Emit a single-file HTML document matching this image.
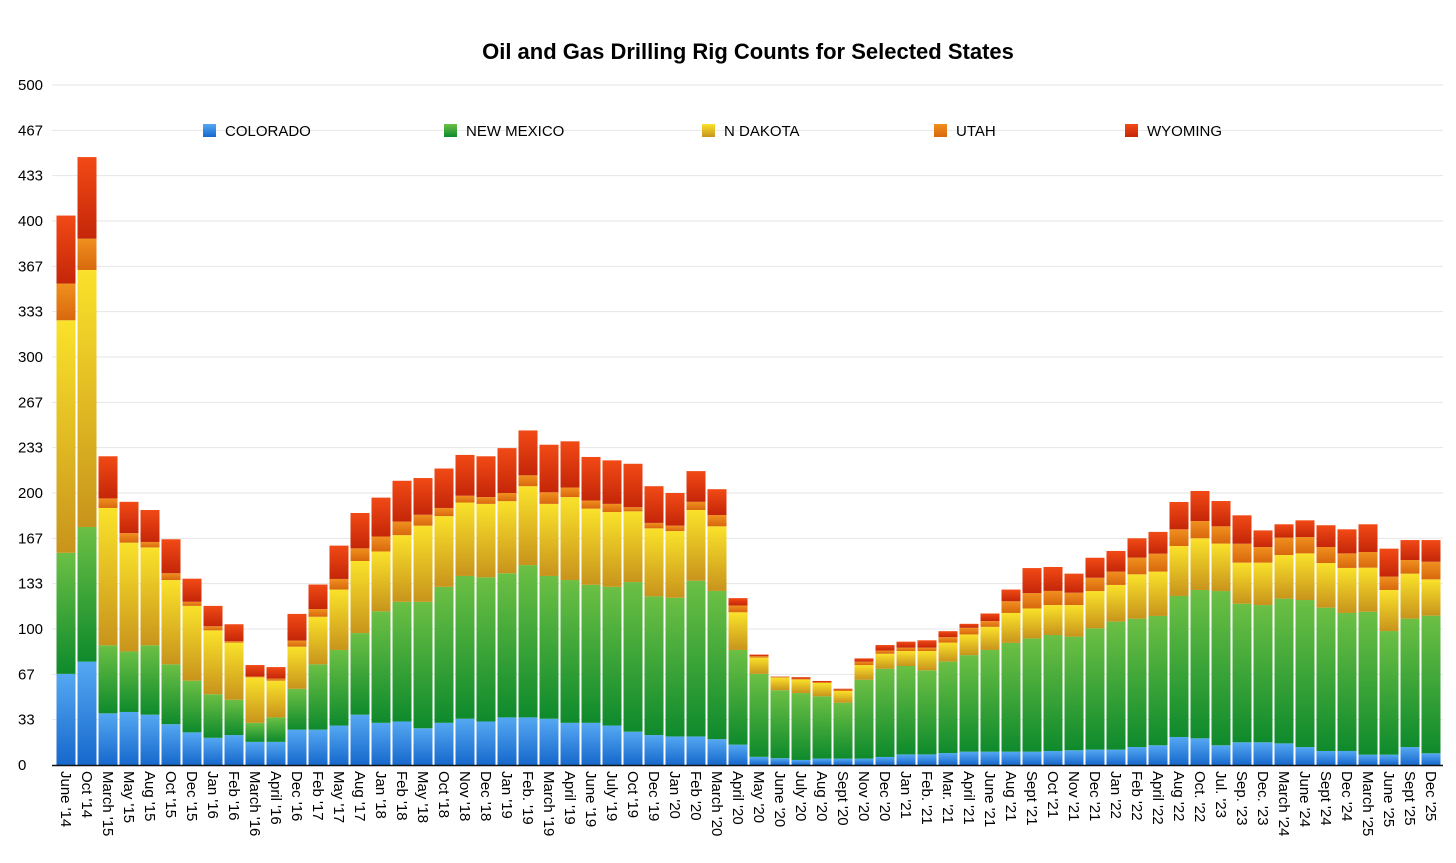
<!DOCTYPE html>
<html><head><meta charset="utf-8"><style>
html,body{margin:0;padding:0;background:#fff;}
svg{display:block;font-family:"Liberation Sans",Arial,sans-serif;}
</style></head><body>
<svg id="chart" width="1456" height="863" viewBox="0 0 1456 863" xmlns="http://www.w3.org/2000/svg">
<defs>
<linearGradient id="g0" x1="0" y1="0" x2="0" y2="1"><stop offset="0" stop-color="#55a8f2"/><stop offset="1" stop-color="#1668cc"/></linearGradient>
<linearGradient id="g1" x1="0" y1="0" x2="0" y2="1"><stop offset="0" stop-color="#6cc044"/><stop offset="1" stop-color="#0e8a2c"/></linearGradient>
<linearGradient id="g2" x1="0" y1="0" x2="0" y2="1"><stop offset="0" stop-color="#fae22a"/><stop offset="1" stop-color="#c8941c"/></linearGradient>
<linearGradient id="g3" x1="0" y1="0" x2="0" y2="1"><stop offset="0" stop-color="#f0901e"/><stop offset="1" stop-color="#d8680e"/></linearGradient>
<linearGradient id="g4" x1="0" y1="0" x2="0" y2="1"><stop offset="0" stop-color="#f24a16"/><stop offset="1" stop-color="#c42608"/></linearGradient>
</defs>
<text x="748" y="59" text-anchor="middle" font-size="22" font-weight="bold" fill="#000">Oil and Gas Drilling Rig Counts for Selected States</text>
<g id="grid"></g>
<g id="bars"></g>
<g id="xlabels"></g>
<g id="legend"></g>
</svg>
<script>
const categories = ["June '14","Oct '14","March '15","May '15","Aug '15","Oct '15","Dec '15","Jan '16","Feb '16","March '16","April '16","Dec '16","Feb '17","May '17","Aug '17","Jan '18","Feb '18","May '18","Oct '18","Nov '18","Dec '18","Jan '19","Feb. '19","March '19","April '19","June '19","July '19","Oct '19","Dec '19","Jan '20","Feb '20","March '20","April '20","May '20","June '20","July '20","Aug '20","Sept '20","Nov '20","Dec '20","Jan '21","Feb. '21","Mar. '21","April '21","June '21","Aug '21","Sept '21","Oct '21","Nov '21","Dec '21","Jan '22","Feb '22","April '22","Aug '22","Oct. '22","Jul. '23","Sep. '23","Dec. '23","March '24","June '24","Sept '24","Dec '24","March '25","June '25","Sept '25","Dec '25"];
const colorado = [67,76,38,39,37,30,24,20,22,17,17,26,26,29,37,31,32,27,31,34,32,35,35,34,31,31,29,24.5,22,21,21,19,15,6,5,3.7,4.7,4.7,4.7,5.9,7.8,7.8,8.8,9.8,9.8,9.8,9.8,10.3,10.8,11.3,11.3,13.2,14.5,20.6,19.6,14.5,16.7,16.7,15.9,13.2,10.3,10.3,7.6,7.6,13.2,8.6];
const newMexico = [89,99,50,44.5,51,44,38,32,26,14,18,30,48,55.6,60,82,88,93,100,105,106,106,112,105,105,101.5,102,110,102,102,114.5,109,69.6,61,50,49.2,45.8,41.1,58,64.9,65,61.8,67.2,71,74.8,80,83.3,85.3,83.6,89.2,94.1,94.4,95.1,103.7,109.1,113.4,101.9,100.9,106.4,108.1,105.4,101.5,105.1,90.9,94.4,101.2];
const nDakota = [171,189,101,80,72,62,55,47,42,33.5,27,31,35,44.4,53,44,49,56,52,54,54,53,58,53,61,56,55,52,50,49,52,47.5,27.7,12,9.3,10,9.8,8.6,10.8,11,11,14.2,14,15.2,17,22,22,22,23.2,27.4,27,32.6,32.6,36.7,38,34.9,30.2,31.2,32.1,34.3,32.8,33.1,32.4,30.2,33.1,26.7];
const utah = [27,23,7,7,4,5,3,3,1,0.6,1.5,4.5,5.7,7.8,9.3,11,10,8,6,5,5,6,8,8.5,7,6,6,3,4,4,6,8.3,5,1,0.3,0.5,0.7,1,2.5,2.4,2.5,2.5,4,4.9,4.2,8.6,11.3,10.4,9.1,9.8,9.8,12.3,13.2,12.3,12.7,12.7,13.9,11.5,12.8,12,11.8,10.7,11.5,9.8,10,13];
const wyoming = [50,60,31,23,23.5,25,17,15,12.5,8.4,8.5,19.6,18,24.5,26,28.6,30,27,29,30,30,33,33,35,34,32,32,32,27,24,22.6,19,5.4,1.2,0.4,1.2,0.8,0.7,2.4,4,4.4,5.4,4.4,2.9,5.6,8.6,18.4,17.6,14,14.7,15.2,14.2,16,20.1,22.1,18.6,20.9,12.2,9.8,12.3,16,17.7,20.4,20.6,14.7,15.9];
const yTicks = [0,33,67,100,133,167,200,233,267,300,333,367,400,433,467,500];
const seriesNames = ["COLORADO","NEW MEXICO","N DAKOTA","UTAH","WYOMING"];

const NS = "http://www.w3.org/2000/svg";
const plotLeft = 52, plotRight = 1443, yBase = 765, yTopPx = 85, yMax = 500;
const firstCenter = 66, step = 21, barW = 19;
function yScale(v){ return yBase - v/yMax*(yBase - yTopPx); }
function xCenter(i){ return firstCenter + i*step; }
function mk(tag, attrs, parent){ const e=document.createElementNS(NS,tag); for(const k in attrs) e.setAttribute(k,attrs[k]); parent.appendChild(e); return e; }

const grid = document.getElementById('grid');
yTicks.forEach((t,i)=>{
  const v = i*500/15;
  const y = yScale(v);
  if(i>0){
    const l = mk('line',{x1:plotLeft,x2:plotRight,y1:y,y2:y,stroke:'#e6e6e6','stroke-width':1},grid);
    
    
  }
  const tx = mk('text',{x:18,y:y+5,'font-size':15,fill:'#000'},grid);
  tx.textContent = t;
  
  
});

const series = [colorado,newMexico,nDakota,utah,wyoming];
const bars = document.getElementById('bars');
categories.forEach((c,i)=>{
  let cum = 0;
  const g = mk('g',{},bars);
  
  
  series.forEach((s,k)=>{
    const v = s[i];
    const y1 = yScale(cum), y2 = yScale(cum+v);
    cum += v;
    const r = mk('rect',{x:xCenter(i)-barW/2,y:y2,width:barW,height:Math.max(0,y1-y2),fill:'url(#g'+k+')'},g);
    
    
  });
});
const axis = mk('line',{x1:plotLeft,x2:plotRight,y1:yBase+0.5,y2:yBase+0.5,stroke:'#111','stroke-width':1.5},bars);



const xl = document.getElementById('xlabels');
categories.forEach((c,i)=>{
  const x = xCenter(i)-5, y = 771;
  const t = mk('text',{x:x,y:y,'font-size':15,fill:'#000',transform:'rotate(90 '+x+' '+y+')'},xl);
  t.textContent = c;
  
  
});

const legend = document.getElementById('legend');
const legendX = [203,444,702,934,1125];
seriesNames.forEach((n,k)=>{
  const g = mk('g',{},legend);
  
  
  mk('rect',{x:legendX[k],y:124,width:13,height:13,fill:'url(#g'+k+')'},g);
  const t = mk('text',{x:legendX[k]+22,y:136,'font-size':15,fill:'#000'},g);
  t.textContent = n;
});
</script>
</body></html>
